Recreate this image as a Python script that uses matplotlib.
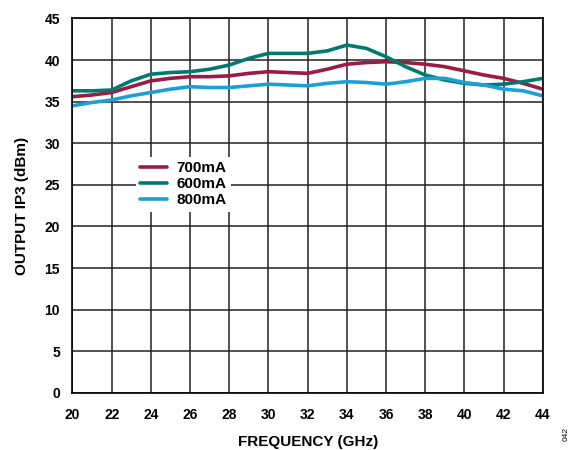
import numpy as np
import matplotlib.pyplot as plt

plt.rcParams['font.family'] = ['Liberation Sans', 'DejaVu Sans']
plt.rcParams['font.weight'] = 'bold'

freq = np.arange(20, 45, 1)
ip3_700 = [35.6, 35.8, 36.1, 36.8, 37.5, 37.8, 38.0, 38.0, 38.1, 38.4, 38.6, 38.5, 38.4,
           38.9, 39.5, 39.7, 39.8, 39.7, 39.5, 39.2, 38.7, 38.2, 37.8, 37.2, 36.5]
ip3_600 = [36.3, 36.3, 36.4, 37.5, 38.3, 38.5, 38.6, 38.9, 39.4, 40.2, 40.8, 40.8, 40.8,
           41.1, 41.8, 41.4, 40.4, 39.2, 38.2, 37.6, 37.2, 37.0, 37.1, 37.4, 37.8]
ip3_800 = [34.5, 34.9, 35.2, 35.7, 36.1, 36.5, 36.8, 36.7, 36.7, 36.9, 37.1, 37.0, 36.9,
           37.2, 37.4, 37.3, 37.1, 37.4, 37.8, 37.8, 37.3, 37.0, 36.5, 36.3, 35.7]

fig = plt.figure(figsize=(5.75, 4.5), dpi=100)
ax = fig.add_axes([0.126, 0.127, 0.818, 0.832])

ax.plot(freq, ip3_700, color='#9b1b45', lw=2.6, label='700mA', solid_capstyle='round')
ax.plot(freq, ip3_600, color='#007a6e', lw=2.6, label='600mA', solid_capstyle='round')
ax.plot(freq, ip3_800, color='#1aa0d8', lw=2.6, label='800mA', solid_capstyle='round')

ax.set_xlim(20, 44)
ax.set_ylim(0, 45)
ax.set_xticks(np.arange(20, 45, 2))
ax.set_yticks(np.arange(0, 46, 5))
ax.grid(True, color='#222222', lw=1.1)
for s in ax.spines.values():
    s.set_color('black')
    s.set_linewidth(1.2)
ax.tick_params(length=0, labelsize=10)
ax.tick_params(axis='x', pad=11)
ax.tick_params(axis='y', pad=9)
for lbl in ax.get_xticklabels() + ax.get_yticklabels():
    lbl.set_fontweight('bold')

ax.set_xlabel('FREQUENCY (GHz)', fontsize=11, fontweight='bold', labelpad=9)
ax.set_ylabel('OUTPUT IP3 (dBm)', fontsize=11, fontweight='bold', labelpad=11)

leg = ax.legend(loc='upper left', bbox_to_anchor=(0.118, 0.651), frameon=True,
                fancybox=False, edgecolor='none', facecolor='white', framealpha=1,
                fontsize=11, handlelength=1.75, handletextpad=0.6, labelspacing=0.12,
                borderpad=0.3)
for t in leg.get_texts():
    t.set_fontweight('bold')

fig.text(0.985, 0.035, '042', rotation=90, fontsize=6, fontweight='normal',
         ha='center', va='center')

fig.savefig('out.png', dpi=100)
